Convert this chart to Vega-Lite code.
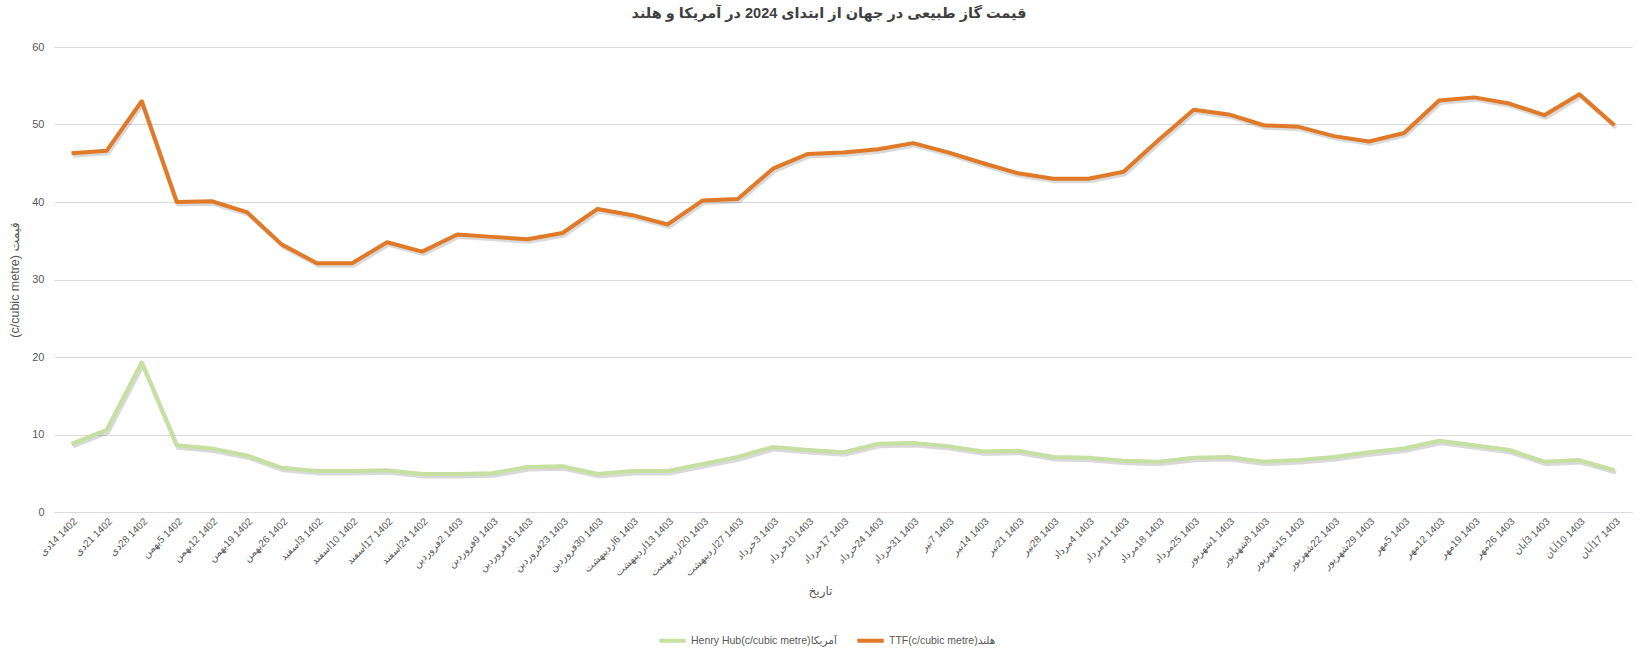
{
  "$schema": "https://vega.github.io/schema/vega-lite/v6.json",
  "width": 1578,
  "height": 465,
  "autosize": {"type": "none"},
  "padding": {"left": 54, "top": 47, "right": 8, "bottom": 136},
  "background": "white",
  "config": {
    "font": "Liberation Sans, DejaVu Sans, sans-serif",
    "view": {"stroke": null}
  },
  "title": {
    "text": "قیمت گاز طبیعی در جهان از ابتدای 2024 در آمریکا و هلند",
    "fontSize": 14.5,
    "fontWeight": "bold",
    "color": "#404040",
    "anchor": "middle",
    "dx": -14,
    "offset": 20
  },
  "data": {
    "values": [
      {"d": "دی\u200e14 1402", "hh": 8.8, "ttf": 46.3},
      {"d": "دی\u200e21 1402", "hh": 10.6, "ttf": 46.6},
      {"d": "دی\u200e28 1402", "hh": 19.3, "ttf": 53.0},
      {"d": "بهمن\u200e5 1402", "hh": 8.6, "ttf": 40.0},
      {"d": "بهمن\u200e12 1402", "hh": 8.2, "ttf": 40.1},
      {"d": "بهمن\u200e19 1402", "hh": 7.3, "ttf": 38.7},
      {"d": "بهمن\u200e26 1402", "hh": 5.7, "ttf": 34.5},
      {"d": "اسفند\u200e3 1402", "hh": 5.3, "ttf": 32.1},
      {"d": "اسفند\u200e10 1402", "hh": 5.3, "ttf": 32.1},
      {"d": "اسفند\u200e17 1402", "hh": 5.4, "ttf": 34.8},
      {"d": "اسفند\u200e24 1402", "hh": 4.9, "ttf": 33.6},
      {"d": "فروردین\u200e2 1403", "hh": 4.9, "ttf": 35.8},
      {"d": "فروردین\u200e9 1403", "hh": 5.0, "ttf": 35.5},
      {"d": "فروردین\u200e16 1403", "hh": 5.8, "ttf": 35.2},
      {"d": "فروردین\u200e23 1403", "hh": 5.9, "ttf": 36.0},
      {"d": "فروردین\u200e30 1403", "hh": 4.9, "ttf": 39.1},
      {"d": "اردیبهشت\u200e6 1403", "hh": 5.3, "ttf": 38.3},
      {"d": "اردیبهشت\u200e13 1403", "hh": 5.3, "ttf": 37.1},
      {"d": "اردیبهشت\u200e20 1403", "hh": 6.2, "ttf": 40.2},
      {"d": "اردیبهشت\u200e27 1403", "hh": 7.1, "ttf": 40.4},
      {"d": "خرداد\u200e3 1403", "hh": 8.4, "ttf": 44.3},
      {"d": "خرداد\u200e10 1403", "hh": 8.0, "ttf": 46.2},
      {"d": "خرداد\u200e17 1403", "hh": 7.7, "ttf": 46.4},
      {"d": "خرداد\u200e24 1403", "hh": 8.8, "ttf": 46.8},
      {"d": "خرداد\u200e31 1403", "hh": 8.9, "ttf": 47.6},
      {"d": "تیر\u200e7 1403", "hh": 8.5, "ttf": 46.4},
      {"d": "تیر\u200e14 1403", "hh": 7.8, "ttf": 45.0},
      {"d": "تیر\u200e21 1403", "hh": 7.9, "ttf": 43.7},
      {"d": "تیر\u200e28 1403", "hh": 7.1, "ttf": 43.0},
      {"d": "مرداد\u200e4 1403", "hh": 7.0, "ttf": 43.0},
      {"d": "مرداد\u200e11 1403", "hh": 6.6, "ttf": 43.9},
      {"d": "مرداد\u200e18 1403", "hh": 6.5, "ttf": 48.0},
      {"d": "مرداد\u200e25 1403", "hh": 7.0, "ttf": 51.9},
      {"d": "شهریور\u200e1 1403", "hh": 7.1, "ttf": 51.3},
      {"d": "شهریور\u200e8 1403", "hh": 6.5, "ttf": 49.9},
      {"d": "شهریور\u200e15 1403", "hh": 6.7, "ttf": 49.7},
      {"d": "شهریور\u200e22 1403", "hh": 7.1, "ttf": 48.5},
      {"d": "شهریور\u200e29 1403", "hh": 7.7, "ttf": 47.8},
      {"d": "مهر\u200e5 1403", "hh": 8.2, "ttf": 48.9},
      {"d": "مهر\u200e12 1403", "hh": 9.2, "ttf": 53.1},
      {"d": "مهر\u200e19 1403", "hh": 8.6, "ttf": 53.5},
      {"d": "مهر\u200e26 1403", "hh": 8.0, "ttf": 52.7},
      {"d": "آبان\u200e3 1403", "hh": 6.5, "ttf": 51.2},
      {"d": "آبان\u200e10 1403", "hh": 6.7, "ttf": 53.9},
      {"d": "آبان\u200e17 1403", "hh": 5.4, "ttf": 49.9}
    ]
  },
  "transform": [{"fold": ["hh", "ttf"], "as": ["series", "value"]}],
  "encoding": {
    "x": {
      "field": "d",
      "type": "ordinal",
      "sort": null,
      "scale": {"type": "point", "padding": 0.5},
      "axis": {
        "title": "تاریخ",
        "titleFontSize": 12,
        "titleFontWeight": "normal",
        "titleColor": "#595959",
        "titleX": 766,
        "titleY": 78,
        "titleBaseline": "middle",
        "labelAngle": -45,
        "labelFontSize": 10,
        "labelColor": "#595959",
        "labelPadding": 4,
        "ticks": false,
        "domain": false,
        "grid": false
      }
    },
    "y": {
      "field": "value",
      "type": "quantitative",
      "scale": {"domain": [0, 60], "nice": false},
      "axis": {
        "title": "(c/cubic metre) قیمت",
        "titleFontSize": 12.5,
        "titleFontWeight": "normal",
        "titleColor": "#595959",
        "titlePadding": 10,
        "values": [0, 10, 20, 30, 40, 50, 60],
        "labelFontSize": 11,
        "labelColor": "#595959",
        "labelPadding": 10,
        "ticks": false,
        "domain": false,
        "grid": true,
        "gridColor": "#d9d9d9",
        "gridWidth": 1
      }
    }
  },
  "layer": [
    {
      "mark": {"type": "line", "stroke": "#000000", "strokeOpacity": 0.15, "strokeWidth": 4, "xOffset": 1.5, "yOffset": 2.5},
      "encoding": {"detail": {"field": "series"}}
    },
    {
      "mark": {"type": "line", "strokeWidth": 4, "strokeJoin": "round"},
      "encoding": {
        "color": {
          "field": "series",
          "type": "nominal",
          "scale": {"domain": ["hh", "ttf"], "range": ["#c5e0a0", "#e07a28"]},
          "legend": {
            "title": null,
            "orient": "none",
            "direction": "horizontal",
            "legendX": 603,
            "legendY": 578,
            "symbolType": "stroke",
            "symbolStrokeWidth": 4,
            "symbolSize": 700,
            "labelFontSize": 10.5,
            "labelColor": "#595959",
            "labelOffset": 3,
            "columnPadding": 12,
            "labelExpr": "datum.value == 'hh' ? 'Henry Hub(c/cubic metre)آمریکا' : 'TTF(c/cubic metre)هلند'"
          }
        }
      }
    }
  ]
}
